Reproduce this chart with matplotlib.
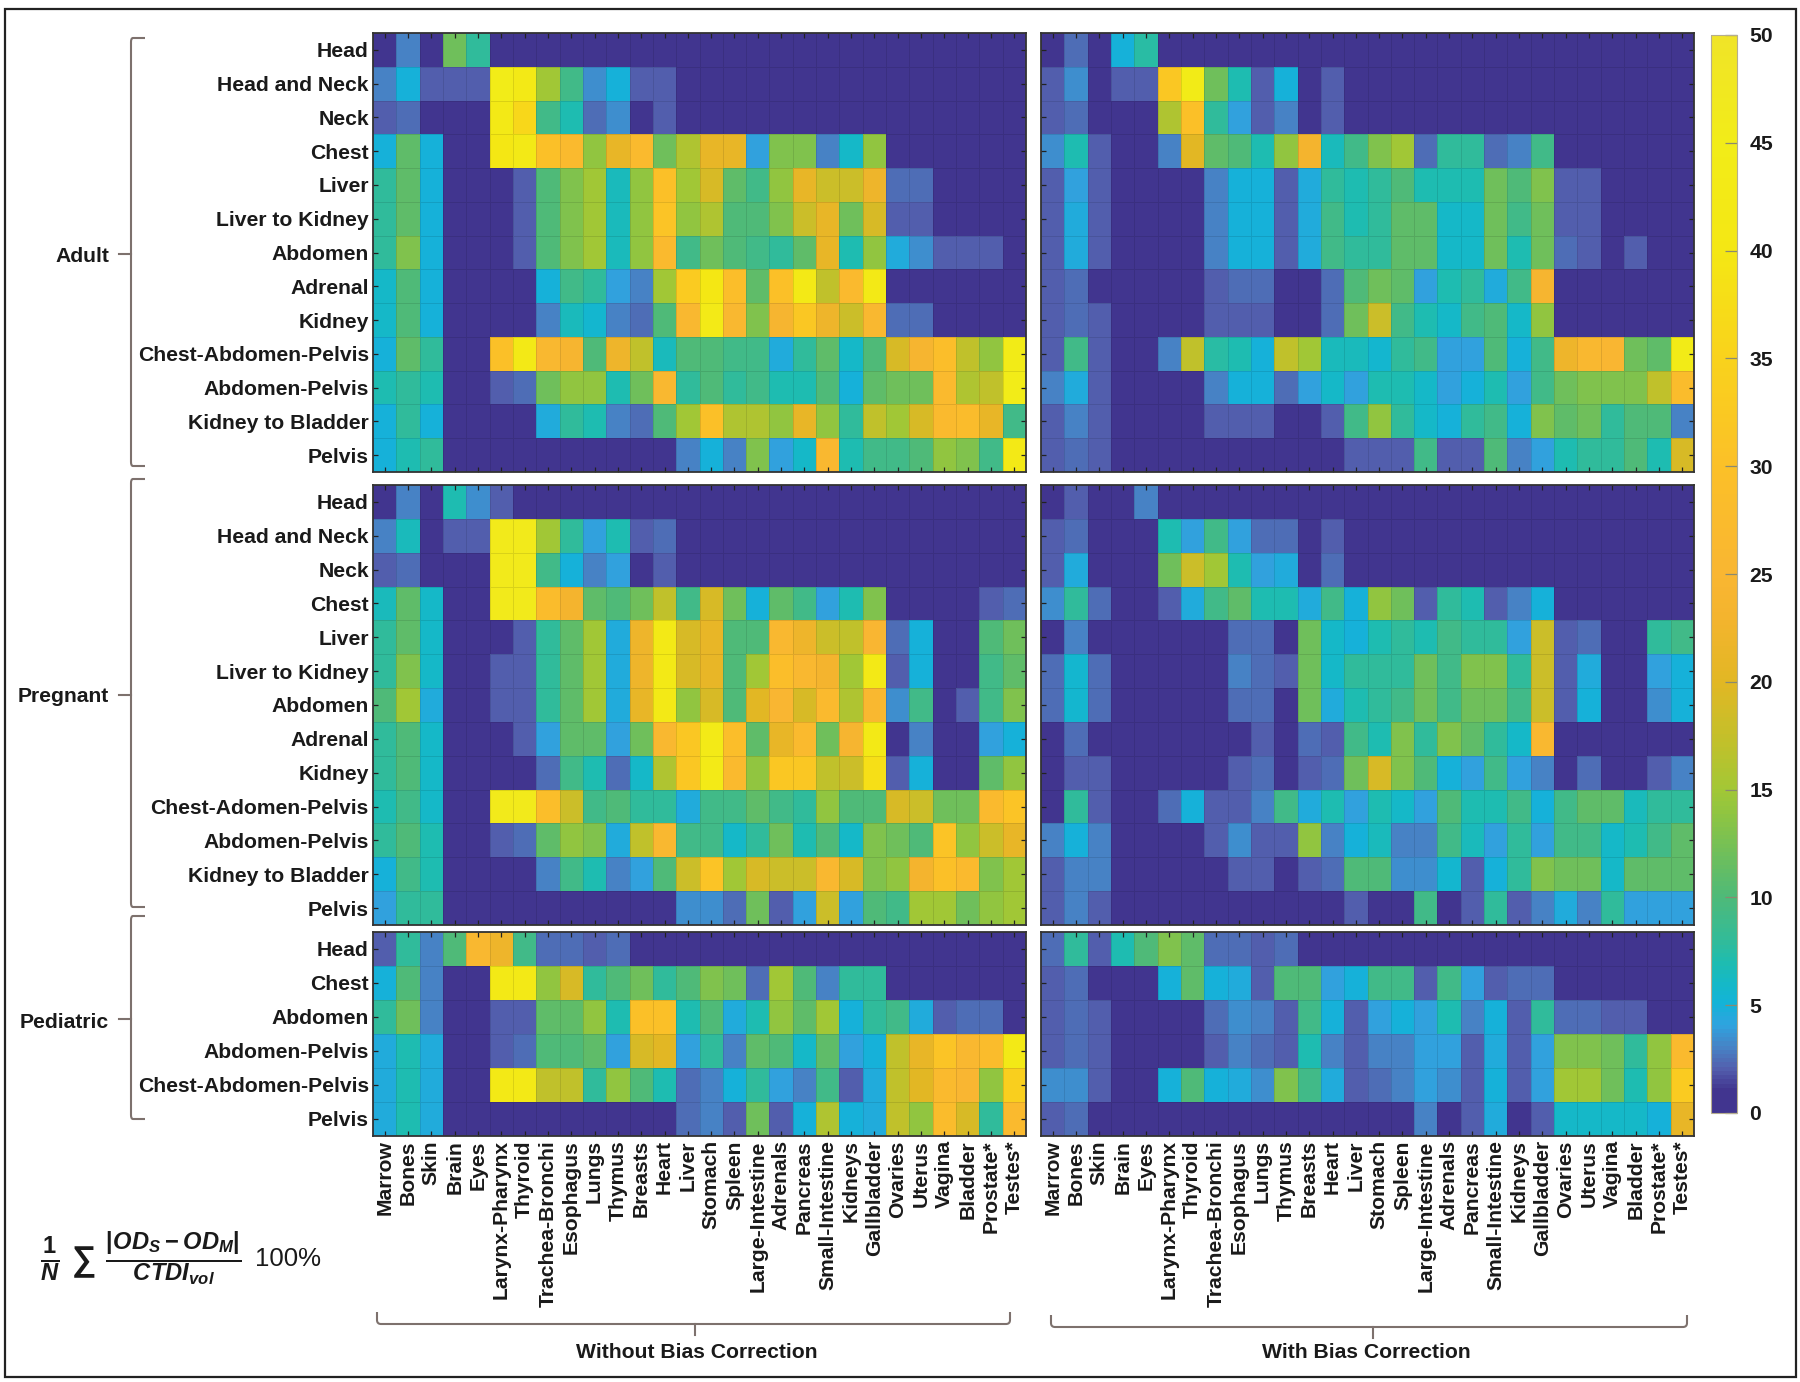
import numpy as np
import matplotlib
matplotlib.use('Agg')
import matplotlib.pyplot as plt
from matplotlib.colors import LinearSegmentedColormap
from matplotlib.lines import Line2D
from matplotlib.patches import Rectangle
from matplotlib.path import Path
from matplotlib.patches import PathPatch

plt.rcParams['font.family'] = ['Liberation Sans', 'DejaVu Sans']
plt.rcParams['mathtext.fontset'] = 'custom'
plt.rcParams['mathtext.rm'] = 'Liberation Sans:bold'
plt.rcParams['mathtext.bf'] = 'Liberation Sans:bold'
plt.rcParams['mathtext.it'] = 'Liberation Sans:italic:bold'
plt.rcParams['mathtext.bfit'] = 'Liberation Sans:italic:bold'

organs = ['Marrow', 'Bones', 'Skin', 'Brain', 'Eyes', 'Larynx-Pharynx', 'Thyroid',
          'Trachea-Bronchi', 'Esophagus', 'Lungs', 'Thymus', 'Breasts', 'Heart', 'Liver',
          'Stomach', 'Spleen', 'Large-Intestine', 'Adrenals', 'Pancreas', 'Small-Intestine',
          'Kidneys', 'Gallbladder', 'Ovaries', 'Uterus', 'Vagina', 'Bladder', 'Prostate*', 'Testes*']

adult_labels = ['Head', 'Head and Neck', 'Neck', 'Chest', 'Liver', 'Liver to Kidney', 'Abdomen',
                'Adrenal', 'Kidney', 'Chest-Abdomen-Pelvis', 'Abdomen-Pelvis', 'Kidney to Bladder', 'Pelvis']
pregnant_labels = ['Head', 'Head and Neck', 'Neck', 'Chest', 'Liver', 'Liver to Kidney', 'Abdomen',
                   'Adrenal', 'Kidney', 'Chest-Adomen-Pelvis', 'Abdomen-Pelvis', 'Kidney to Bladder', 'Pelvis']
pediatric_labels = ['Head', 'Chest', 'Abdomen', 'Abdomen-Pelvis', 'Chest-Abdomen-Pelvis', 'Pelvis']

# values
adult_raw = [
    [0,3,0,12,8,0,0,0,0,0,0,0,0,0,0,0,0,0,0,0,0,0,0,0,0,0,0,0],
    [3,5,2,2,2,45,42,15,9,3.5,5,2,2,0,0,0,0,0,0,0,0,0,0,0,0,0,0,0],
    [2,2.5,0,0,0,42,36,9,7,2.5,3.5,0,2,0,0,0,0,0,0,0,0,0,0,0,0,0,0,0],
    [5,11,5,0,0,40,42,30,27,14,21,27,12,16,21,21,4,13,13,3,6,14,0,0,0,0,0,0],
    [8,11,5,0,0,0,2,10,13,15,6.5,14,30,15,19,11,9,14,21,18,18,22,2.5,2.5,0,0,0,0],
    [8,11,5,0,0,0,2,10,13,15,6.5,14,31,14,16,10,10,13,18,21,12,19,2,2,0,0,0,0],
    [8,13,5,0,0,0,2,10,13,15,6.5,14,27,9,12,10,9,8,11,21,7,14,4.5,3.5,2,2,2,0],
    [6,10,5,0,0,0,0,5,9,8,4,3,15,33,40,29,11,30,42,17,27,42,0,0,0,0,0,0],
    [6,10,5,0,0,0,0,3,6.5,5.5,3,2.5,10,26,43,26,13,24,32,22,18,26,2.5,2.5,0,0,0,0],
    [5,11,8,0,0,30,42,26,24,10,22,17,6.5,10,10,9,9,4.5,8,11,6,10,19,24,29,17,14,44],
    [7,8,7,0,0,2,2.5,12,14,14,7,12,26,8,10,8,9,7,7,10,5,11,12,12,27,16,17,45],
    [5,8,5,0,0,0,0,4.5,8,7,3,2.5,10,15,30,16,16,14,21,14,8,17,15,19,27,28,21,9],
    [5,7,8,0,0,0,0,0,0,0,0,0,0,3,5,3,13,4,6,26,7,9,9,10,14,13,9,42],
]
adult_corrected = [
    [0,2.5,0,5,7.5,0,0,0,0,0,0,0,0,0,0,0,0,0,0,0,0,0,0,0,0,0,0,0],
    [2,3.5,0,2,2,32,44,12,7,2,5,0,2,0,0,0,0,0,0,0,0,0,0,0,0,0,0,0],
    [2,2.5,0,0,0,16,30,8,4,2,3,0,2,0,0,0,0,0,0,0,0,0,0,0,0,0,0,0],
    [3.5,7,2,0,0,3,20,11,10,7,14,23,6.5,9,13,15,2.5,8,8,2.5,3,9,0,0,0,0,0,0],
    [2,4,2,0,0,0,0,3,5,5,2,4.5,8,7,8,10,7,7,7,12,10,13,2,2,0,0,0,0],
    [2,4.5,2,0,0,0,0,3,5,5,2,4.5,9,7,8,11,11,6,6,12,9,12,2,2,0,0,0,0],
    [2,4.5,2,0,0,0,0,3,5,5,2,4.5,9,8,8,11,11,6,6,12,7,12,2.5,2,0,2,0,0],
    [2,2.5,0,0,0,0,0,2,2.5,2.5,0,0,2.5,10,12,11,4,7,8,4.5,9,24,0,0,0,0,0,0],
    [2,2.5,2,0,0,0,0,2,2,2,0,0,2.5,12,18,9,7,6,9,10,6,14,0,0,0,0,0,0],
    [2,9,2,0,0,3,17,7.5,7,5,17,15,6.5,6.5,5.5,8,9,4,4,10,5,9,22,26,25,12,11,44],
    [3,4.5,2,0,0,0,0,3,5,5,2.5,4,6,4,7,7,6,4,5,7,4,9,12,13,13,13,17,28],
    [2,3,2,0,0,0,0,2,2,2,0,0,2,9,14,8,6,5,8,9,5,13,11,12,8,10,10,3],
    [2,2.5,2,0,0,0,0,0,0,0,0,0,0,2,2,2,9,2,2,10,3,4,7,8,8,10,7,19],
]
pregnant_raw = [
    [0,3,0,7,3.5,2,0,0,0,0,0,0,0,0,0,0,0,0,0,0,0,0,0,0,0,0,0,0],
    [3,6.5,0,2,2,46,46,15,8,4,7,2,2.5,0,0,0,0,0,0,0,0,0,0,0,0,0,0,0],
    [2,2.5,0,0,0,46,46,9,5,3,4,0,2,0,0,0,0,0,0,0,0,0,0,0,0,0,0,0],
    [6.5,11,6,0,0,46,46,28,23,11,10,12,17,9,19,12,5,11,9,4,7,13,0,0,0,0,2,2.5],
    [8,11,6,0,0,0,2,8,11,15,4.5,22,42,19,21,10,10,26,22,18,17,25,2.5,5,0,0,10,12],
    [8,13,6,0,0,2,2,8,11,15,4.5,22,42,19,21,10,15,29,26,23,15,42,2,5,0,0,9,11],
    [10,15,4.5,0,0,2,2,8,11,15,4.5,21,42,14,19,10,20,25,19,27,16,26,3.5,9,0,2,9,13],
    [8,10,6,0,0,0,2,4,11,11,4,12,26,32,43,29,11,21,27,12,24,42,0,3,0,0,4,5],
    [8,10,6,0,0,0,0,2.5,9,7,2.5,6,16,32,43,27,14,32,32,17,18,38,2,5,0,0,11,14],
    [7,9,6,0,0,46,46,29,18,9,10,8,8,4.5,9,9,11,9,8,14,10,10,19,18,12,12,27,31],
    [8,10,7,0,0,2,2.5,11,14,13,4.5,17,26,9,9,6,8,12,7,10,6,13,12,10,31,14,18,21],
    [5,9,7,0,0,0,0,3,9,7,3,4,10,18,31,15,19,18,18,26,19,13,14,23,30,27,13,15],
    [4,8,8,0,0,0,0,0,0,0,0,0,0,3.5,3.5,2.5,12,2,4,18,4,10,9,15,15,12,14,15],
]
pregnant_corrected = [
    [0,2,0,0,3,0,0,0,0,0,0,0,0,0,0,0,0,0,0,0,0,0,0,0,0,0,0,0],
    [2,2.5,0,0,0,7,4,9,4,2.5,2.5,0,2,0,0,0,0,0,0,0,0,0,0,0,0,0,0,0],
    [2,4.5,0,0,0,12,18,15,7,4,4.5,0,2.5,0,0,0,0,0,0,0,0,0,0,0,0,0,0,0],
    [3.5,8,2.5,0,0,2,4.5,9,11,7,7,4.5,9,5,14,12,2,8,7,2,3,5,0,0,0,0,0,0],
    [0,3,0,0,0,0,0,0,2.5,2.5,0,12,6,5,7,8,7,9,8,8,4,18,2,2.5,0,0,8,9],
    [2.5,5.5,2.5,0,0,0,0,0,3,2.5,2,12,6,8,8,8,12,9,13,13,8,18,2,4.5,0,0,4,5],
    [2.5,5.5,2.5,0,0,0,0,0,2.5,2.5,0,12,4.5,7,8,9,12,9,12,12,9,18,2,5,0,0,3.5,5],
    [0,2.5,0,0,0,0,0,0,0,2,0,2.5,2,9,7,13,8,13,11,8,6,26,0,0,0,0,0,0],
    [0,2,2,0,0,0,0,0,2,2.5,0,2,2.5,12,19,13,10,5,4,9,4,3,0,2.5,0,0,2,3],
    [0,8,2,0,0,2.5,5,2,2,3,9,4.5,7,4,7,6,4,10,7,7,9,5,9,11,11,6.5,8,8],
    [3,5,3,0,0,0,0,2,3.5,2,2,14,3,5,6.5,3,3,9,6.5,4,8,4,9,9,6,7,9,11],
    [2,3,3,0,0,0,0,0,2,2,0,2,2.5,10,10,3.5,3.5,5.5,2,5,8,13,12,12,6,11,11,11],
    [2,3,2,0,0,0,0,0,0,0,0,0,0,2,0,0,9,0,2,8,2,3,4.5,3,8,4,4,4],
]
pediatric_raw = [
    [2,8,3,10,26,22,9,2.5,2.5,2,2.5,0,0,0,0,0,0,0,0,0,0,0,0,0,0,0,0,0],
    [5,10,3,0,0,42,42,14,19,8,10,12,8,10,13,12,2.5,15,10,3,8,8,0,0,0,0,0,0],
    [8,12,3,0,0,2,2,11,11,14,7,30,30,7,10,4.5,7,14,11,15,5,8,9,4.5,2,2.5,2.5,0],
    [4.5,7,4.5,0,0,2,2.5,10,10,11,4,19,20,4,8,3,11,10,6,11,4,5,17,21,31,26,28,42],
    [4.5,7,4.5,0,0,42,42,17,17,8,14,10,7,2.5,3,5,8,4,3,9,2,4.5,17,20,27,25,14,34],
    [4.5,7,4.5,0,0,0,0,0,0,0,0,0,0,2.5,3,2,12,2,5,16,5,4.5,17,14,28,19,8,27],
]
pediatric_corrected = [
    [2.5,8,2,7,10,13,11,2.5,2.5,2,2.5,0,0,0,0,0,0,0,0,0,0,0,0,0,0,0,0,0],
    [2,2.5,0,0,0,5,11,5,4.5,2,10,10,4,5,9,9,2,9,4,2,2.5,2.5,0,0,0,0,0,0],
    [2,2.5,2,0,0,0,0,2.5,3.5,3,2,9,5,2,4,5,4,7,3,5,2,8,2.5,2.5,2,2,0,0],
    [2,2.5,2,0,0,0,0,2,3,2.5,2,7,3,2,3,3,4,4,2,4.5,2,4,13,13,12,8,14,27],
    [3.5,3.5,2,0,0,5,10,5,4.5,3.5,13,9,4.5,2,2.5,3,4,3.5,2,5,2,4,15,15,12,7,14,33],
    [2,2.5,0,0,0,0,0,0,0,0,0,0,0,0,0,0,3,0,2,4.5,0,2,6,6,6,6,5,21],
]

colorbar_ticks = [0, 5, 10, 15, 20, 25, 30, 35, 40, 45, 50]

# parula-like map as printed, anchors are (value, colour)
cmap_anchors = [(0, '#41358F'), (1, '#41358F'), (2, '#5360AE'), (3, '#4684C6'), (4, '#2FA3DF'),
                (5, '#13B3D8'), (6, '#15B9C6'), (7, '#20BCAE'), (8, '#33BB98'), (10, '#4FBA78'),
                (12, '#70BF5A'), (14, '#92C53F'), (15, '#A3C735'), (17, '#BFC12B'), (20, '#E2B724'),
                (23, '#F4B42E'), (25, '#F9B632'), (30, '#FBC028'), (35, '#F9D21C'), (40, '#F4E714'),
                (45, '#F2EC18'), (50, '#F0E428')]
cmap = LinearSegmentedColormap.from_list('printed_parula', [(v / 50, c) for v, c in cmap_anchors], N=256)

W, H = 1800, 1382
fig = plt.figure(figsize=(W / 100, H / 100), dpi=100, facecolor='white')


def px_axes(x0, y0, x1, y1):
    # pixel box (y from the top) to an axes
    return fig.add_axes([x0 / W, 1 - y1 / H, (x1 - x0) / W, (y1 - y0) / H])


def fig_x(x):
    return x / W


def fig_y(y):
    return 1 - y / H


LABEL_SIZE = 15.2
BROWN = '#7d716d'
left_col = (373, 1026)
right_col = (1041, 1694)
rows = [(33, 472), (485, 925), (932, 1136)]

panels = [
    (adult_raw, adult_labels, left_col, rows[0], True, False),
    (adult_corrected, adult_labels, right_col, rows[0], False, False),
    (pregnant_raw, pregnant_labels, left_col, rows[1], True, False),
    (pregnant_corrected, pregnant_labels, right_col, rows[1], False, False),
    (pediatric_raw, pediatric_labels, left_col, rows[2], True, True),
    (pediatric_corrected, pediatric_labels, right_col, rows[2], False, True),
]

mesh = None
for values, labels, col, row, show_y, show_x in panels:
    ax = px_axes(col[0], row[0], col[1], row[1])
    data = np.array(values, dtype=float)
    mesh = ax.pcolormesh(np.arange(data.shape[1] + 1), np.arange(data.shape[0] + 1), data,
                         cmap=cmap, vmin=0, vmax=50, edgecolors=(0, 0, 0, 0.10), linewidth=0.6)
    ax.set_ylim(data.shape[0], 0)
    ax.set_xticks(np.arange(data.shape[1]) + 0.5)
    ax.set_yticks(np.arange(data.shape[0]) + 0.5)
    ax.tick_params(direction='in', top=True, right=True, length=3.5, width=0.9, color='#222222', pad=3)
    ax.set_yticklabels(labels if show_y else [], fontsize=LABEL_SIZE, fontweight='bold', color='#1a1a1a')
    ax.set_xticklabels(organs if show_x else [], fontsize=LABEL_SIZE, fontweight='bold', color='#1a1a1a',
                       rotation=90)
    for spine in ax.spines.values():
        spine.set_linewidth(1.3)
        spine.set_color('#333333')

# colorbar
cax = px_axes(1711, 35, 1737, 1113)
cb = fig.colorbar(mesh, cax=cax)
cb.set_ticks(colorbar_ticks)
cb.outline.set_edgecolor('#b5ad8f')
cb.outline.set_linewidth(0.8)
cax.tick_params(direction='in', length=8.5, width=0.9, color='#8a8a70', pad=9)
cax.set_yticklabels([str(t) for t in colorbar_ticks], fontsize=LABEL_SIZE, fontweight='bold', color='#1a1a1a')

# outer frame
fig.add_artist(Rectangle((fig_x(5), fig_y(1377)), (1796 - 5) / W, (1377 - 9) / H, transform=fig.transFigure,
                         fill=False, edgecolor='#222222', linewidth=1.6))


def left_brace(y0, y1, tip_y, spine_x=131, hook_x=145, tip_x=119):
    verts = [(hook_x, y0), (spine_x + 2, y0), (spine_x, y0), (spine_x, y0 + 4),
             (spine_x, y1 - 4), (spine_x, y1), (spine_x + 2, y1), (hook_x, y1)]
    codes = [Path.MOVETO, Path.LINETO, Path.CURVE3, Path.CURVE3,
             Path.LINETO, Path.CURVE3, Path.CURVE3, Path.LINETO]
    verts = [(fig_x(x), fig_y(y)) for x, y in verts]
    fig.add_artist(PathPatch(Path(verts, codes), transform=fig.transFigure, fill=False,
                             edgecolor=BROWN, linewidth=1.5))
    fig.add_artist(Line2D([fig_x(tip_x), fig_x(spine_x)], [fig_y(tip_y), fig_y(tip_y)],
                          color=BROWN, linewidth=1.5))


def bottom_brace(x0, x1, tip_x, top_y, bar_y, tip_y):
    verts = [(x0, top_y), (x0, bar_y - 4), (x0, bar_y), (x0 + 4, bar_y),
             (x1 - 4, bar_y), (x1, bar_y), (x1, bar_y - 4), (x1, top_y)]
    codes = [Path.MOVETO, Path.LINETO, Path.CURVE3, Path.CURVE3,
             Path.LINETO, Path.CURVE3, Path.CURVE3, Path.LINETO]
    verts = [(fig_x(x), fig_y(y)) for x, y in verts]
    fig.add_artist(PathPatch(Path(verts, codes), transform=fig.transFigure, fill=False,
                             edgecolor=BROWN, linewidth=1.5))
    fig.add_artist(Line2D([fig_x(tip_x), fig_x(tip_x)], [fig_y(bar_y), fig_y(tip_y)],
                          color=BROWN, linewidth=1.5))


left_brace(38, 466, 254)
left_brace(479, 907, 695)
left_brace(916, 1119, 1019)
bottom_brace(377, 1010, 695, 1312, 1324, 1335)
bottom_brace(1051, 1687, 1373, 1315, 1327, 1338)

group_names = ['Adult', 'Pregnant', 'Pediatric']
for name, y in zip(group_names, [254, 695, 1021]):
    fig.text(fig_x(109), fig_y(y), name, ha='right', va='center_baseline', fontsize=LABEL_SIZE,
             fontweight='bold', color='#1a1a1a')

fig.text(fig_x(697), fig_y(1351), 'Without Bias Correction', ha='center', va='center_baseline',
         fontsize=LABEL_SIZE, fontweight='bold', color='#1a1a1a')
fig.text(fig_x(1366), fig_y(1351), 'With Bias Correction', ha='center', va='center_baseline',
         fontsize=LABEL_SIZE, fontweight='bold', color='#1a1a1a')

# dose error formula
fig.text(fig_x(40), fig_y(1259),
         r'$\frac{\mathbf{1}}{\mathbfit{N}}\ \sum\ \frac{|\mathbfit{OD}_{\mathbfit{S}} - \mathbfit{OD}_{\mathbfit{M}}|}'
         r'{\mathbfit{CTDI}_{\mathbfit{vol}}}$',
         ha='left', va='center', fontsize=24.5, color='#1a1a1a')
fig.text(fig_x(255), fig_y(1259), '100%', ha='left', va='center', fontsize=18.5, color='#1a1a1a')

fig.savefig('out.png', dpi=100)
